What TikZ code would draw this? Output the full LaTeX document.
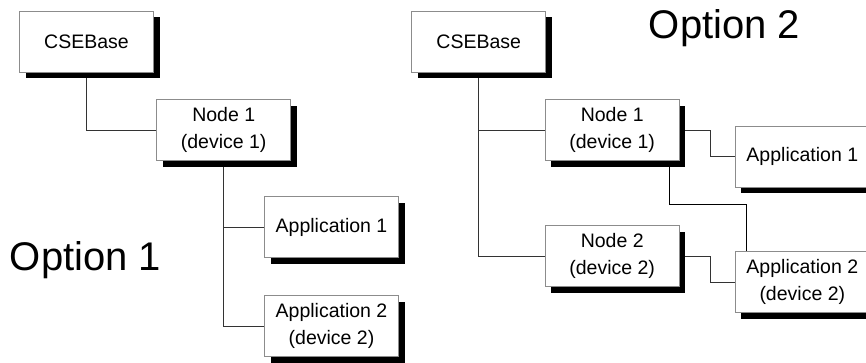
\documentclass[tikz,border=0pt]{standalone}
\usepackage{fontspec}
\setmainfont{Liberation Sans}
\usetikzlibrary{shadows,backgrounds,calc}
\tikzset{
  box/.style={draw=black!45, line width=1pt, fill=white, minimum width=134pt, minimum height=61pt,
    inner sep=0pt, align=center, font=\fontsize{19.5}{27}\selectfont,
    drop shadow={shadow xshift=6pt, shadow yshift=-6pt, fill=black, opacity=1}},
  conn/.style={draw=black!80, line width=0.9pt},
  strong/.style={draw=black, line width=1.1pt},
  bigtext/.style={anchor=base, inner sep=0pt, font=\fontsize{40}{44}\selectfont}
}
\begin{document}
\begin{tikzpicture}[x=1pt,y=1pt]
\useasboundingbox (0,0) rectangle (866,-362);
% left
\node[box] (cse1) at (86.5,-41.8) {CSEBase};
\node[box] (n1L) at (223.7,-130.2) {Node 1\\(device 1)};
\node[box] (a1L) at (331.5,-227) {Application 1};
\node[box] (a2L) at (331.5,-326.2) {Application 2\\(device 2)};
\node[bigtext] (opt1) at (85.5,-270) {Option 1};
% right
\node[box] (cse2) at (478.7,-41.8) {CSEBase};
\node[box] (n1R) at (612.2,-130.3) {Node 1\\(device 1)};
\node[box] (n2R) at (612.2,-256) {Node 2\\(device 2)};
\node[box] (a1R) at (802.3,-156.7) {Application 1};
\node[box] (a2R) at (802.3,-282.2) {Application 2\\(device 2)};
\node[bigtext] (opt2) at (724.5,-38.3) {Option 2};
\begin{pgfonlayer}{background}
\draw[conn] (cse1.south) |- (n1L.west);
\draw[conn] (n1L.south) |- (a2L.west);
\draw[conn] (n1L.south |- a1L.west) -- (a1L.west);
\draw[conn] (cse2.south) |- (n2R.west);
\draw[conn] (cse2.south |- n1R.west) -- (n1R.west);
\coordinate (k1) at (710.3,-130.3);
\coordinate (k2) at (710.3,-256);
\draw[conn] (n1R.east) -- (k1) |- (a1R.west);
\draw[conn] (n2R.east) -- (k2) |- (a2R.west);
\coordinate (s1) at ([xshift=-10.5pt]n1R.south east);
\coordinate (t1) at ([xshift=11.4pt]a2R.north west);
\draw[strong] (s1) -- ++(0,-43) -| (t1);
\end{pgfonlayer}
\end{tikzpicture}
\end{document}
